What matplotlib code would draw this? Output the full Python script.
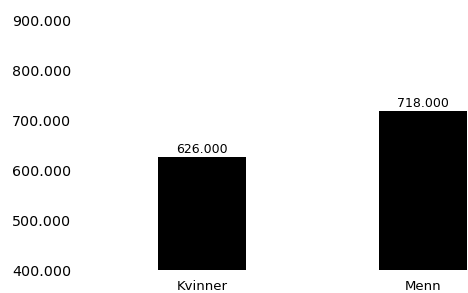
import matplotlib
matplotlib.use("Agg")
import matplotlib.pyplot as plt
from matplotlib.ticker import FuncFormatter

categories = ["Kvinner", "Menn"]
values     = [626000, 718000]
yticks     = [400000, 500000, 600000, 700000, 800000, 900000]

def fmt(v, pos=None):
    return "{:,.0f}".format(v).replace(",", ".")

plt.rcParams['font.family'] = ['DejaVu Sans']

W, H = 468, 293
fig = plt.figure(figsize=(W/100, H/100), dpi=100)
# axes from x=80 px to right edge, y from 270 px (bottom) up to top
left = 80
ax = fig.add_axes([left/W, 23/H, 1 - left/W, 270/H])

px_per_unit = 221
ax.bar(range(len(categories)), values, width=88/px_per_unit, color="black")
ax.set_xlim(-(202 - left)/px_per_unit, 1 + (468 - 423)/px_per_unit)
ax.set_ylim(400000, 400000 + 270*2000)

for i, v in enumerate(values):
    ax.text(i, v + 1500, fmt(v), ha="center", va="bottom", fontsize=9)

ax.set_yticks(yticks)
ax.yaxis.set_major_formatter(FuncFormatter(fmt))
ax.set_xticks(range(len(categories)))
ax.set_xticklabels(categories)
ax.tick_params(axis="x", length=0, pad=7, labelsize=9.5)
ax.tick_params(axis="y", length=0, pad=6.5, labelsize=10.3)
for s in ax.spines.values():
    s.set_visible(False)

fig.savefig("out.png", dpi=100)
